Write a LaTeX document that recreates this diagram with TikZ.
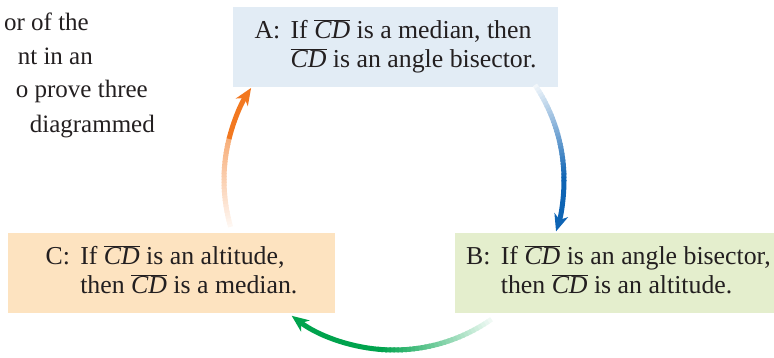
\documentclass[tikz,border=0pt]{standalone}
\usepackage{fontspec}
\setmainfont{Liberation Serif}
\usetikzlibrary{arrows.meta}
\definecolor{boxAfill}{RGB}{226,236,245}
\definecolor{boxBfill}{RGB}{228,238,205}
\definecolor{boxCfill}{RGB}{253,227,192}
\definecolor{arcblue}{RGB}{14,100,180}
\definecolor{arcorange}{RGB}{242,120,32}
\definecolor{arcgreen}{RGB}{0,163,77}
\definecolor{inktext}{RGB}{35,31,32}
\newcommand{\segCD}{$\overline{\textit{CD}}$}
\newcommand{\fadearc}[5]{%
  \foreach \i in {0,...,29}{%
    \pgfmathsetmacro\sa{(#2)+((#3)-(#2))*\i/30}%
    \pgfmathsetmacro\ea{(#2)+((#3)-(#2))*(\i+1.4)/30}%
    \pgfmathsetmacro\pp{(#4)+((#5)-(#4))*\i/29}%
    \draw[arcline, draw=#1!\pp!white] ([shift={(O)}]\sa:\R) arc[start angle=\sa, end angle=\ea, radius=\R];
  }}
\def\R{170}
\begin{document}
\begin{tikzpicture}[x=1pt,y=1pt,
  every node/.style={text=inktext},
  stmt/.style={minimum height=80pt, inner ysep=0pt, font=\fontsize{25.8}{29}\selectfont},
  lefttext/.style={inner sep=0pt, font=\fontsize{25}{33}\selectfont},
  arcline/.style={line width=5pt},
  tip/.style={-{Stealth[length=17pt,width=14pt,inset=5pt]}}]
\useasboundingbox (0,0) rectangle (774,357);
% clipped paragraph on the left
\node[lefttext, anchor=base east] (t1) at (89,326) {or of the};
\node[lefttext, anchor=base east] (t2) at (93,292) {nt in an};
\node[lefttext, anchor=base east] (t3) at (148,259) {o prove three};
\node[lefttext, anchor=base east] (t4) at (155,225) {diagrammed};
% statement boxes
\node[stmt, fill=boxAfill, inner xsep=0pt, minimum width=325pt] (A) at (395.5,310)
  {\begin{tabular}{@{}l@{\hspace{0.4em}}l@{}}A: & If \segCD{} is a median, then\\ & \segCD{} is an angle bisector.\end{tabular}};
\node[stmt, fill=boxBfill, inner xsep=11pt, anchor=west] (B) at (455,84)
  {\begin{tabular}{@{}l@{\hspace{0.4em}}l@{}}B: & If \segCD{} is an angle bisector,\\ & then \segCD{} is an altitude.\end{tabular}};
\node[stmt, fill=boxCfill, inner xsep=0pt, minimum width=327pt] (C) at (171.5,84)
  {\begin{tabular}{@{}l@{\hspace{0.4em}}l@{}}C: & If \segCD{} is an altitude,\\ & then \segCD{} is a median.\end{tabular}};
% cycle of arrows
\coordinate (O) at (394,177);
% A -> B (blue)
\fadearc{arcblue}{34}{0}{6}{100}
\draw[arcline, color=arcblue, tip] ([shift={(O)}]0:\R) arc[start angle=0, end angle=-17.6, radius=\R];
% B -> C (green)
\fadearc{arcgreen}{-55}{-95}{6}{100}
\draw[arcline, color=arcgreen, tip] ([shift={(O)}]-95:\R) arc[start angle=-95, end angle=-127, radius=\R];
% C -> A (orange)
\fadearc{arcorange}{196}{166}{6}{60}
\draw[arcline, color=arcorange, tip] ([shift={(O)}]166:\R) arc[start angle=166, end angle=147.2, radius=\R];
\end{tikzpicture}
\end{document}
